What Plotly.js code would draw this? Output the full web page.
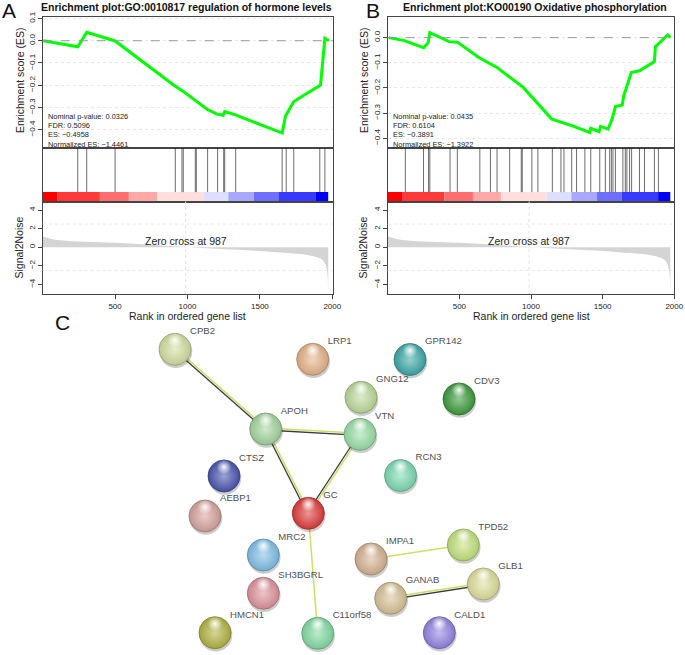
<!DOCTYPE html>
<html><head><meta charset="utf-8">
<script src="https://cdn.plot.ly/plotly-3.0.1.min.js"></script>
<style>html,body{margin:0;padding:0;background:#fff}#chart{width:685px;height:655px}</style>
</head><body><div id="chart"></div>
<script>
// ---------------- DATA ----------------
// Panel A: GO:0010817 regulation of hormone levels
const titleA = 'Enrichment plot:GO:0010817 regulation of hormone levels';
const statsA = ['Nominal p-value: 0.0326', 'FDR: 0.5096', 'ES: \u22120.4958', 'Normalized ES: \u22121.4461'];
const esRankA = [4, 242, 304, 500, 904, 973, 1135, 1204, 1246, 1257, 1331, 1654, 1677, 1734, 1919, 1949, 1977];
const esValA  = [0, -0.027, 0.038, -0.001, -0.199, -0.229, -0.308, -0.330, -0.335, -0.318, -0.333, -0.415, -0.338, -0.273, -0.199, 0.011, 0.0];
const hitsA = [242, 304, 500, 916, 962, 971, 1054, 1061, 1139, 1208, 1250, 1257, 1333, 1654, 1682, 1734, 1914, 1949];

// Panel B: KO00190 Oxidative phosphorylation
const titleB = 'Enrichment plot:KO00190 Oxidative phosphorylation';
const statsB = ['Nominal p-value: 0.0435', 'FDR: 0.6104', 'ES: \u22120.3891', 'Normalized ES: \u22121.3922'];
const esRankB = [8, 116, 250, 282, 294, 428, 486, 636, 763, 925, 944, 1145, 1284, 1410, 1417, 1475, 1485, 1538, 1568, 1589, 1637, 1646, 1700, 1757, 1861, 1868, 1954, 1972];
const esValB  = [0, -0.012, -0.040, -0.020, 0.020, -0.016, -0.018, -0.079, -0.119, -0.188, -0.197, -0.324, -0.350, -0.377, -0.361, -0.374, -0.353, -0.364, -0.320, -0.274, -0.268, -0.234, -0.139, -0.132, -0.095, -0.036, 0.011, 0.0];
const hitsB = [123, 250, 285, 294, 435, 486, 643, 717, 763, 851, 932, 939, 1006, 1048, 1149, 1209, 1230, 1284, 1318, 1376, 1417, 1480, 1519, 1549, 1561, 1572, 1589, 1641, 1658, 1669, 1688, 1702, 1757, 1792, 1861, 1889];

// Shared ranked list: signal-to-noise profile and colour-bar bins
const s2nRank = [1, 30, 60, 100, 150, 200, 281, 400, 500, 600, 742, 870, 987, 1100, 1200, 1319, 1450, 1549, 1650, 1734, 1800, 1872, 1920, 1941, 1955, 1964, 1969, 1972];
const s2nVal  = [1.15, 1.0, 0.9, 0.78, 0.7, 0.64, 0.6, 0.56, 0.5, 0.4, 0.25, 0.12, 0, -0.08, -0.15, -0.22, -0.35, -0.45, -0.57, -0.65, -0.75, -0.95, -1.2, -1.5, -1.9, -2.5, -3.3, -4.8];
const zeroCross = 987;
const barEdges = [0, 100, 395, 595, 790, 1110, 1282, 1458, 1632, 1887, 1972];
const barColors = ['#FF0000', '#FF3838', '#FF6E6E', '#FFA8A8', '#FFDEDE', '#DEDEFF', '#A8A8FF', '#6E6EFF', '#3838FF', '#0000FF'];

const esTickValsA = [0.1, 0, -0.1, -0.2, -0.3, -0.4];
const esTickTextA = ['0.1', '0.0', '\u22120.1', '\u22120.2', '\u22120.3', '\u22120.4'];
const esTickValsB = [0, -0.1, -0.2, -0.3, -0.4];
const esTickTextB = ['0.0', '\u22120.1', '\u22120.2', '\u22120.3', '\u22120.4'];
const s2nTickVals = [4, 2, 0, -2, -4];
const s2nTickText = ['4', '2', '0', '\u22122', '\u22124'];
const rankTickVals = [500, 1000, 1500, 2000];

// Panel C: STRING network
const nodeNames = ['CPB2','LRP1','GPR142','GNG12','CDV3','APOH','VTN','CTSZ','RCN3','AEBP1','GC','MRC2','IMPA1','TPD52','SH3BGRL','GANAB','GLB1','HMCN1','C11orf58','CALD1'];
const nodeX = [175, 312.7, 410, 361, 459, 265.7, 360, 224, 400.5, 205, 308.3, 263.3, 371, 463.3, 263.3, 390.7, 483.3, 215, 317.7, 439.3];
const nodeY = [349.3, 359.3, 359.5, 397.3, 399, 429, 434.3, 476, 475.5, 516, 513.3, 555, 559, 545, 593.3, 598.3, 584, 632.7, 633.3, 632.7];
const nodeColors = ['#d3e0a0','#e8b48a','#3eaaaa','#bedc9c','#3c9c3c','#a4d89e','#9ae0a8','#4a56b0','#7cdcb4','#d8a4a0','#e03c3c','#80c0e8','#d8b494','#c4e47e','#e0949e','#d8c496','#e0e09c','#b4b444','#84dca4','#9484e4'];
const edgeFrom = ['CPB2','APOH','APOH','VTN','GC','IMPA1','GANAB'];
const edgeTo   = ['APOH','VTN','GC','GC','C11orf58','TPD52','GLB1'];
const edgeDark = [true, true, true, true, false, false, true];

// ---------------- LAYOUT HELPERS ----------------
const W = 685, H = 655;
const FONT = 'Liberation Sans, Arial, sans-serif';
const fx = v => v / W, fy = v => 1 - v / H;
const traces = [], shapes = [], annotations = [];
const layout = {
  width: W, height: H, margin: {l: 0, r: 0, t: 0, b: 0},
  paper_bgcolor: '#fff', plot_bgcolor: 'rgba(0,0,0,0)', showlegend: false,
  barmode: 'overlay', font: {family: FONT, color: '#222'}
};
const BAR_TOP = 0.174;
const frameCol = '#444';

function panel(p) {
  const [xe, ye, xh, yh, xs, ys] = p.ax;
  const nm = a => a.replace('x', 'xaxis').replace('y', 'yaxis');
  // ES curve
  traces.push({type: 'scatter', mode: 'lines', x: p.esRank, y: p.esVal, xaxis: xe, yaxis: ye,
    line: {color: '#00FF00', width: 3}, hoverinfo: 'skip'});
  // colour bar
  const mids = [], widths = [];
  for (let i = 0; i < barEdges.length - 1; i++) {
    mids.push((barEdges[i] + barEdges[i + 1]) / 2);
    widths.push(barEdges[i + 1] - barEdges[i]);
  }
  traces.push({type: 'bar', x: mids, y: mids.map(() => BAR_TOP), base: 0, width: widths,
    marker: {color: barColors, line: {width: 0}}, xaxis: xh, yaxis: yh, hoverinfo: 'skip'});
  // hits
  const hx = [], hy = [];
  p.hits.forEach(h => { hx.push(h, h, null); hy.push(BAR_TOP, 1, null); });
  traces.push({type: 'scatter', mode: 'lines', x: hx, y: hy, xaxis: xh, yaxis: yh,
    line: {color: 'rgba(30,30,30,0.65)', width: 1}, hoverinfo: 'skip'});
  // signal to noise
  traces.push({type: 'scatter', mode: 'lines', x: s2nRank, y: s2nVal, fill: 'tozeroy',
    fillcolor: '#D4D4D4', line: {width: 0, color: '#D4D4D4'}, xaxis: xs, yaxis: ys, hoverinfo: 'skip'});

  const xdom = [fx(p.xl), fx(p.xr)];
  const base = {showline: true, linecolor: frameCol, linewidth: 1, mirror: true, zeroline: false, fixedrange: true};
  const tf = {family: FONT, size: 8, color: '#222'};
  layout[nm(xe)] = Object.assign({}, base, {domain: xdom, range: p.xr_, showticklabels: false, ticks: '', showgrid: false, anchor: ye});
  layout[nm(ye)] = Object.assign({}, base, {domain: [fy(147.5), fy(p.top)], range: p.esRange, tickvals: p.esTV, ticktext: p.esTT,
    tickangle: -90, ticks: 'outside', ticklen: 4, tickcolor: frameCol, tickfont: tf, showgrid: true, gridcolor: '#e8e8e8', griddash: 'dot', anchor: xe});
  layout[nm(xh)] = Object.assign({}, base, {domain: xdom, range: p.xr_, showticklabels: false, ticks: '', showgrid: false, anchor: yh});
  layout[nm(yh)] = Object.assign({}, base, {domain: [fy(201.5), fy(147.5)], range: [0, 1], showticklabels: false, ticks: '', showgrid: false, anchor: xh});
  layout[nm(xs)] = Object.assign({}, base, {domain: xdom, range: p.xr_, tickvals: rankTickVals, ticks: 'outside', ticklen: 4,
    tickcolor: frameCol, tickfont: tf, showgrid: false, anchor: ys});
  layout[nm(ys)] = Object.assign({}, base, {domain: [fy(294), fy(201.5)], range: [-5.02, 4.92], tickvals: s2nTickVals, ticktext: s2nTickText,
    tickangle: -90, ticks: 'outside', ticklen: 4, tickcolor: frameCol, tickfont: tf, showgrid: false, anchor: xs});

  // reference lines
  shapes.push({type: 'line', xref: xe + ' domain', x0: 0, x1: 1, yref: ye, y0: 0, y1: 0, line: {color: '#999', width: 1, dash: 'dash'}});
  shapes.push({type: 'line', xref: xs, x0: zeroCross, x1: zeroCross, yref: ys + ' domain', y0: 0, y1: 1, line: {color: '#e2e2e2', width: 1, dash: 'dot'}});
  [2.5, -2.5].forEach(v => shapes.push({type: 'line', xref: xs + ' domain', x0: 0, x1: 1, yref: ys, y0: v, y1: v, line: {color: '#e8e8e8', width: 1, dash: 'dot'}}));

  // texts
  annotations.push({text: '<b>' + p.title + '</b>', xref: 'paper', yref: 'paper', x: fx(p.titleX), y: fy(6.5), xanchor: 'center', yanchor: 'middle',
    showarrow: false, font: {family: FONT, size: 10.5, color: '#111'}});
  annotations.push({text: p.letter, xref: 'paper', yref: 'paper', x: fx(p.letterX), y: fy(10), xanchor: 'center', yanchor: 'middle',
    showarrow: false, font: {family: FONT, size: 21, color: '#111'}});
  p.stats.forEach((s, i) => annotations.push({text: s, xref: 'paper', yref: 'paper', x: fx(p.xl + 3), y: fy(116.5 + i * 9.2),
    xanchor: 'left', yanchor: 'middle', showarrow: false, font: {family: FONT, size: 7.4, color: '#222'}}));
  annotations.push({text: 'Enrichment score (ES)', xref: 'paper', yref: 'paper', x: fx(p.esTitleX), y: fy(80), textangle: -90,
    xanchor: 'center', yanchor: 'middle', showarrow: false, font: {family: FONT, size: 10.5, color: '#222'}});
  annotations.push({text: 'Signal2Noise', xref: 'paper', yref: 'paper', x: fx(p.snTitleX), y: fy(247.5), textangle: -90,
    xanchor: 'center', yanchor: 'middle', showarrow: false, font: {family: FONT, size: 10.5, color: '#222'}});
  annotations.push({text: 'Rank in ordered gene list', xref: 'paper', yref: 'paper', x: fx((p.xl + p.xr) / 2), y: fy(316),
    xanchor: 'center', yanchor: 'middle', showarrow: false, font: {family: FONT, size: 10.5, color: '#222'}});
  annotations.push({text: 'Zero cross at ' + zeroCross, xref: xs, yref: ys, x: zeroCross, y: 0.65,
    xanchor: 'center', yanchor: 'middle', showarrow: false, font: {family: FONT, size: 10.5, color: '#222'}});
}

panel({ax: ['x', 'y', 'x2', 'y2', 'x3', 'y3'], esRank: esRankA, esVal: esValA, hits: hitsA,
  xl: 42.7, xr: 332.7, xr_: [0, 2003], top: 16.5, esRange: [-0.48, 0.109], esTV: esTickValsA, esTT: esTickTextA,
  title: titleA, titleX: 187, letter: 'A', letterX: 9, stats: statsA, esTitleX: 20, snTitleX: 18});
panel({ax: ['x4', 'y4', 'x5', 'y5', 'x6', 'y6'], esRank: esRankB, esVal: esValB, hits: hitsB,
  xl: 387.7, xr: 674.3, xr_: [0, 2000], top: 16.5, esRange: [-0.437, 0.084], esTV: esTickValsB, esTT: esTickTextB,
  title: titleB, titleX: 535, letter: 'B', letterX: 373, stats: statsB, esTitleX: 364, snTitleX: 362});

// ---------------- NETWORK ----------------
function hex2rgb(h) { return [1, 3, 5].map(i => parseInt(h.substr(i, 2), 16)); }
function mix(h, t, k) { const c = hex2rgb(h); return 'rgb(' + c.map(v => Math.round(v + (t - v) * k)).join(',') + ')'; }
const idx = n => nodeNames.indexOf(n);
const NX = 'x7', NY = 'y7';
layout.xaxis7 = {domain: [0, 1], range: [0, W], visible: false, fixedrange: true, anchor: 'y7'};
layout.yaxis7 = {domain: [0, fy(320)], range: [H, 320], visible: false, fixedrange: true, anchor: 'x7'};

// edges (two evidence channels drawn side by side)
const darkX = [], darkY = [], yelX = [], yelY = [];
edgeFrom.forEach((f, i) => {
  const a = idx(f), b = idx(edgeTo[i]);
  const x0 = nodeX[a], y0 = nodeY[a], x1 = nodeX[b], y1 = nodeY[b];
  const L = Math.hypot(x1 - x0, y1 - y0), nx = -(y1 - y0) / L, ny = (x1 - x0) / L;
  const o = edgeDark[i] ? -1.0 : 0;
  yelX.push(x0 + nx * o, x1 + nx * o, null); yelY.push(y0 + ny * o, y1 + ny * o, null);
  if (edgeDark[i]) { darkX.push(x0 - nx * o, x1 - nx * o, null); darkY.push(y0 - ny * o, y1 - ny * o, null); }
});
traces.push({type: 'scatter', mode: 'lines', x: yelX, y: yelY, xaxis: NX, yaxis: NY, line: {color: '#cde060', width: 1.5}, hoverinfo: 'skip'});
traces.push({type: 'scatter', mode: 'lines', x: darkX, y: darkY, xaxis: NX, yaxis: NY, line: {color: '#3a3a46', width: 1.3}, hoverinfo: 'skip'});

// labels
traces.push({type: 'scatter', mode: 'text', x: nodeX.map(v => v + 15), y: nodeY.map(v => v - 17.5), text: nodeNames,
  textposition: 'middle right', textfont: {family: FONT, size: 9.6, color: '#505050'}, xaxis: NX, yaxis: NY, hoverinfo: 'skip', cliponaxis: false});
// shadow
traces.push({type: 'scatter', mode: 'markers', x: nodeX.map(v => v + 0.8), y: nodeY.map(v => v + 2.2), xaxis: NX, yaxis: NY,
  marker: {size: 33, color: 'rgba(0,0,0,0.2)', line: {width: 0}}, hoverinfo: 'skip', cliponaxis: false});
// spheres
traces.push({type: 'scatter', mode: 'markers', x: nodeX, y: nodeY, xaxis: NX, yaxis: NY,
  marker: {size: 32, color: nodeColors.map(c => mix(c, 0, 0.1)), line: {width: 0.8, color: nodeColors.map(c => mix(c, 0, 0.3))},
    gradient: {type: 'radial', color: nodeColors.map(c => mix(c, 255, 0.45))}}, hoverinfo: 'skip', cliponaxis: false});
// gloss highlight
traces.push({type: 'scatter', mode: 'markers', x: nodeX, y: nodeY.map(v => v - 9), xaxis: NX, yaxis: NY,
  marker: {size: 15, color: 'rgba(255,255,255,0)', line: {width: 0}, gradient: {type: 'radial', color: 'rgba(255,255,255,0.95)'}},
  hoverinfo: 'skip', cliponaxis: false});

annotations.push({text: 'C', xref: 'paper', yref: 'paper', x: fx(63), y: fy(322), xanchor: 'center', yanchor: 'middle',
  showarrow: false, font: {family: FONT, size: 21, color: '#111'}});

layout.shapes = shapes;
layout.annotations = annotations;
Plotly.newPlot('chart', traces, layout, {displayModeBar: false, staticPlot: true});
</script>
</body></html>
